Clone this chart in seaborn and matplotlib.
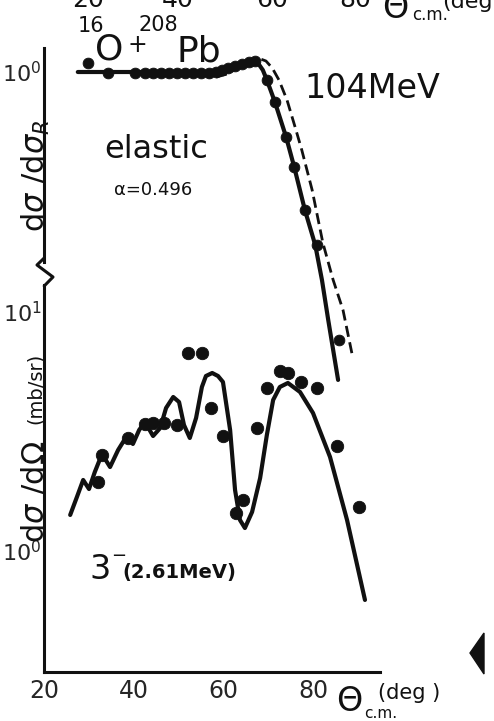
import matplotlib
matplotlib.use("Agg")
import matplotlib.pyplot as plt
import seaborn as sns
from matplotlib.lines import Line2D
from matplotlib.patches import Polygon
from matplotlib.ticker import NullFormatter

# elastic 16O + 208Pb, ratio to Rutherford
el_x = [29.8, 34.2, 40.3, 42.5, 44.3, 46.1, 47.9, 49.6, 51.4, 53.2, 55.0, 56.8,
        58.4, 59.7, 61.0, 62.6, 64.2, 65.7, 67.1, 69.7, 71.5, 74.0, 75.8, 78.2,
        80.9, 85.8]
el_y = [1.125, 0.987, 0.987, 0.987, 0.987, 0.987, 0.987, 0.987, 0.987, 0.987,
        0.993, 0.993, 1.0, 1.026, 1.054, 1.082, 1.11, 1.14, 1.155, 0.901, 0.675,
        0.427, 0.289, 0.164, 0.104, 0.030]
el_fit_x = [27.5, 57.7, 60.4, 62.6, 64.8, 66.4, 67.7, 68.8, 69.7, 71.5, 74.0,
            75.8, 78.2, 80.5, 82.0, 83.4, 85.6]
el_fit_y = [1.0, 1.0, 1.026, 1.082, 1.125, 1.14, 1.125, 1.026, 0.901, 0.675,
            0.427, 0.289, 0.164, 0.104, 0.0658, 0.039, 0.0178]
el_alt_x = [54.8, 57.7, 60.8, 63.7, 65.9, 67.7, 69.5, 70.9, 72.4, 74.2, 76.0,
            77.5, 79.8, 82.2, 84.5, 86.7, 88.9]
el_alt_y = [0.974, 0.925, 0.974, 1.068, 1.155, 1.201, 1.155, 1.054, 0.901,
            0.693, 0.487, 0.36, 0.214, 0.107, 0.0658, 0.0444, 0.0237]

# inelastic 3- (2.61 MeV), mb/sr
in_x = [32.0, 32.9, 38.7, 42.5, 44.3, 46.7, 49.6, 52.1, 55.2, 57.2, 59.9,
        62.8, 64.4, 67.5, 69.7, 72.6, 74.4, 77.3, 80.9, 85.4, 90.3]
in_y = [1.94, 2.52, 2.97, 3.40, 3.43, 3.43, 3.37, 6.74, 6.74, 3.97, 3.03,
        1.44, 1.63, 3.27, 4.81, 5.66, 5.55, 5.10, 4.81, 2.75, 1.53]
in_fit_x = [25.8, 27.3, 28.7, 30.0, 31.3, 32.9, 34.7, 36.5, 38.3, 39.8, 41.2,
            42.5, 44.3, 45.9, 47.2, 48.8, 50.1, 51.2, 52.5, 53.9, 55.2, 56.1,
            57.5, 58.8, 59.9, 61.5, 62.6, 63.7, 64.8, 66.4, 68.2, 69.7, 71.1,
            72.6, 74.4, 77.1, 80.0, 83.8, 87.6, 91.6]
in_fit_y = [1.415, 1.682, 1.982, 1.817, 2.141, 2.546, 2.246, 2.646, 3.0, 2.804,
            3.209, 3.465, 3.028, 3.271, 3.966, 4.409, 4.202, 3.367, 2.971,
            3.602, 4.856, 5.397, 5.556, 5.397, 5.095, 3.209, 1.8, 1.348, 1.248,
            1.456, 2.02, 3.058, 4.283, 4.856, 5.047, 4.627, 3.779, 2.474,
            1.348, 0.624]

x_major = [20, 40, 60, 80]
x_minor = [30, 50, 70, 90]
up_minor = [0.1, 0.2, 0.3, 0.4, 0.5, 0.6, 0.7, 0.8, 0.9]
lo_minor = [0.4, 0.5, 0.6, 0.7, 0.8, 2, 3, 4, 5, 6, 7, 8]

sns.set_style("white")
plt.rcParams['font.family'] = ['DejaVu Sans']
plt.rcParams['mathtext.fontset'] = 'dejavusans'

W, H = 494, 721
ink = '#111111'


def fx(px):
    return px / W


def fy(py):
    return 1 - py / H


fig = plt.figure(figsize=(W / 100, H / 100), dpi=100, facecolor='white')
ax_l = fig.add_axes([fx(44.2), fy(672), 336 / W, 387 / H])
ax_u = fig.add_axes([fx(44.2), fy(400), 336 / W, 352 / H])

for ax in (ax_l, ax_u):
    ax.set_facecolor('none')
    ax.set_yscale('log')
    ax.set_xlim(20, 95)
    for s in ('top', 'right'):
        ax.spines[s].set_visible(False)
    ax.spines['left'].set_linewidth(2.2)
    ax.spines['left'].set_color(ink)

# upper panel: elastic
ax_u.set_ylim(0.01369, 1.369)
ax_u.spines['bottom'].set_visible(False)
ax_u.spines['left'].set_bounds(0.0833, 1.369)
ax_u.tick_params(axis='x', bottom=False, labelbottom=False)
ax_u.set_yticks([1])
ax_u.set_yticklabels([r'$10^0$'])
ax_u.set_yticks(up_minor, minor=True)
ax_u.yaxis.set_minor_formatter(NullFormatter())
ax_u.tick_params(axis='y', which='major', direction='in', length=10, width=2,
                 labelsize=16, pad=2, color=ink)
ax_u.tick_params(axis='y', which='minor', direction='in', length=5, width=1.8,
                 color=ink)

sns.lineplot(x=el_fit_x, y=el_fit_y, ax=ax_u, color=ink, lw=3,
             estimator=None, sort=False)
sns.lineplot(x=el_alt_x, y=el_alt_y, ax=ax_u, color=ink, lw=2,
             linestyle=(0, (4, 2)), estimator=None, sort=False)
sns.scatterplot(x=el_x, y=el_y, ax=ax_u, color=ink, s=60, edgecolor=ink,
                linewidth=0.6, zorder=4)
ax_u.set_xlabel('')
ax_u.set_ylabel('')

# lower panel: 3- inelastic
ax_l.set_ylim(0.3117, 12.97)
ax_l.spines['bottom'].set_linewidth(2.2)
ax_l.spines['bottom'].set_color(ink)
ax_l.set_yticks([1, 10])
ax_l.set_yticklabels([r'$10^0$', r'$10^1$'])
ax_l.set_yticks(lo_minor, minor=True)
ax_l.yaxis.set_minor_formatter(NullFormatter())
ax_l.tick_params(axis='y', which='major', direction='in', length=12, width=2,
                 labelsize=16, pad=2, color=ink)
ax_l.tick_params(axis='y', which='minor', direction='in', length=6, width=1.8,
                 color=ink)
ax_l.set_xticks(x_major)
ax_l.set_xticklabels([str(v) for v in x_major])
ax_l.set_xticks(x_minor, minor=True)
ax_l.tick_params(axis='x', which='both', direction='in', length=7, width=1.8,
                 labelsize=17, pad=5, color=ink)

sns.lineplot(x=in_fit_x, y=in_fit_y, ax=ax_l, color=ink, lw=3,
             estimator=None, sort=False)
sns.scatterplot(x=in_x, y=in_y, ax=ax_l, color=ink, s=80, edgecolor=ink,
                linewidth=0.6, zorder=4)
ax_l.set_xlabel('')
ax_l.set_ylabel('')

# axis break on the left spine
fig.add_artist(Line2D([fx(44.2), fx(37), fx(53), fx(44.2)],
                      [fy(258), fy(265), fy(277), fy(286)],
                      color=ink, lw=2.2))

# axis titles
fig.text(fx(45), fy(176), r'd$\sigma$ /d$\sigma_R$', rotation=90,
         rotation_mode='anchor', ha='center', va='baseline', fontsize=22,
         color=ink)
fig.text(fx(44), fy(492), r'd$\sigma$ /d$\Omega$', rotation=90,
         rotation_mode='anchor', ha='center', va='baseline', fontsize=22,
         color=ink)
fig.text(fx(41), fy(388), '(mb/sr)', rotation=90, rotation_mode='anchor',
         ha='center', va='baseline', fontsize=14, color=ink)

fig.text(fx(336), fy(711), 'Θ', fontsize=24, color=ink, va='baseline')
fig.text(fx(364), fy(718), 'c.m.', fontsize=11, color=ink, va='baseline')
fig.text(fx(378), fy(699), '(deg )', fontsize=15, color=ink, va='baseline')

# annotations
fig.text(fx(78), fy(32), '16', fontsize=15, color=ink, va='baseline')
fig.text(fx(95), fy(60), 'O', fontsize=26, color=ink, va='baseline')
fig.text(fx(127), fy(52), '+', fontsize=17, color=ink, va='baseline')
fig.text(fx(139), fy(31), '208', fontsize=15, color=ink, va='baseline')
fig.text(fx(176), fy(61), 'Pb', fontsize=26, color=ink, va='baseline')
fig.text(fx(304), fy(98), '104MeV', fontsize=24, color=ink, va='baseline')
fig.text(fx(104), fy(158), 'elastic', fontsize=23, color=ink, va='baseline')
fig.text(fx(114), fy(195), 'α=0.496', fontsize=13, color=ink, va='baseline')
fig.text(fx(89), fy(579), '3', fontsize=24, color=ink, va='baseline')
fig.text(fx(111), fy(561), '−', fontsize=13, color=ink, va='baseline')
fig.text(fx(122), fy(578), '(2.61MeV)', fontsize=14, fontweight='bold',
         color=ink, va='baseline')

# labels of the panel above, cut off by the scan edge
for lab, px in zip(['20', '40', '60', '80'], [88, 178, 272, 355]):
    fig.text(fx(px), fy(7), lab, fontsize=18, color=ink, ha='center',
             va='baseline')
fig.text(fx(382), fy(18), 'Θ', fontsize=24, color=ink, va='baseline')
fig.text(fx(412), fy(20), 'c.m.', fontsize=12, color=ink, va='baseline')
fig.text(fx(442), fy(8), '(deg.)', fontsize=16, color=ink, va='baseline')

# scan mark at the right edge
fig.add_artist(Polygon([[fx(470), fy(653)], [fx(484), fy(633)],
                        [fx(484), fy(674)]], closed=True, color=ink))

fig.savefig('out.png', dpi=100, facecolor='white')
